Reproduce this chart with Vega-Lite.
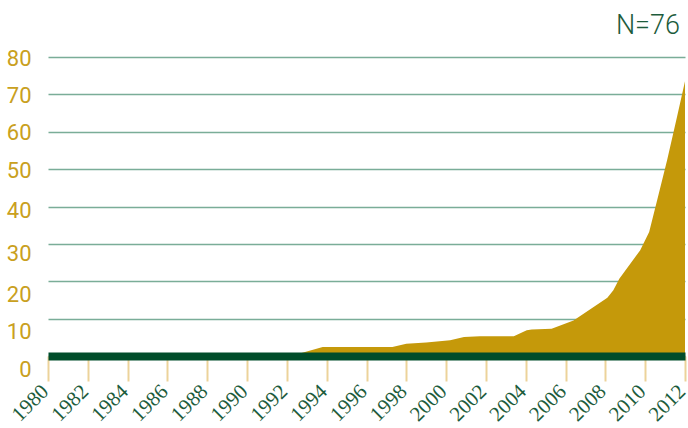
{
  "$schema": "https://vega.github.io/schema/vega-lite/v6.json",
  "autosize": "none",
  "width": 637,
  "height": 299,
  "padding": {"left": 48, "top": 57, "right": 3, "bottom": 72},
  "background": "white",
  "title": {
    "text": "N=76",
    "anchor": "end",
    "frame": "group",
    "font": "Roboto",
    "fontSize": 27,
    "fontWeight": 300,
    "color": "#1d5c3c",
    "baseline": "alphabetic",
    "offset": 14,
    "dy": 28,
    "dx": -5
  },
  "config": {"view": {"stroke": null}},
  "data": {
    "values": [
      {"year": 1980, "count": 0},
      {"year": 1992.2, "count": 0},
      {"year": 1993.8, "count": 2.4},
      {"year": 1997.3, "count": 2.4},
      {"year": 1998.0, "count": 3.3},
      {"year": 1999.0, "count": 3.6},
      {"year": 2000.2, "count": 4.2},
      {"year": 2000.9, "count": 5.1},
      {"year": 2001.7, "count": 5.3},
      {"year": 2003.4, "count": 5.3},
      {"year": 2004.05, "count": 6.9},
      {"year": 2004.3, "count": 7.1},
      {"year": 2005.3, "count": 7.3},
      {"year": 2006.4, "count": 9.5},
      {"year": 2008.1, "count": 15.6},
      {"year": 2008.4, "count": 17.6},
      {"year": 2008.7, "count": 20.7},
      {"year": 2009.75, "count": 28.3},
      {"year": 2010.2, "count": 33.2},
      {"year": 2010.6, "count": 41.7},
      {"year": 2011.1, "count": 52.4},
      {"year": 2011.6, "count": 64.0},
      {"year": 2012.0, "count": 73.5}
    ]
  },
  "mark": {"type": "area", "color": "#c5990a", "interpolate": "linear"},
  "encoding": {
    "x": {
      "field": "year",
      "type": "quantitative",
      "scale": {"domain": [1980, 2012], "nice": false, "zero": false},
      "axis": {
        "title": null,
        "values": [1980, 1982, 1984, 1986, 1988, 1990, 1992, 1994, 1996, 1998, 2000, 2002, 2004, 2006, 2008, 2010, 2012],
        "format": "d",
        "grid": false,
        "domain": true,
        "domainColor": "#004d2a",
        "domainWidth": 8,
        "domainCap": "butt",
        "ticks": true,
        "tickColor": "#ecd39a",
        "tickWidth": 2,
        "tickSize": 25,
        "labelAngle": -45,
        "labelAlign": "right",
        "labelBaseline": "middle",
        "labelPadding": 7,
        "labelOffset": -3,
        "labelFont": "Liberation Serif",
        "labelFontSize": 21,
        "labelColor": "#1d5c3c",
        "labelOverlap": false,
        "labelFlush": false,
        "zindex": 1
      }
    },
    "y": {
      "field": "count",
      "type": "quantitative",
      "scale": {"domain": [0, 80], "nice": false},
      "axis": {
        "title": null,
        "values": [0, 10, 20, 30, 40, 50, 60, 70, 80],
        "domain": false,
        "ticks": false,
        "grid": true,
        "gridColor": "#7aad98",
        "gridWidth": 1.5,
        "labelFont": "Roboto",
        "labelFontSize": 22,
        "labelFontWeight": "normal",
        "labelColor": "#c9a020",
        "labelPadding": 17,
        "labelBaseline": "middle",
        "labelOffset": {
          "condition": [
            {"test": "datum.value <= 20", "value": 13},
            {"test": "datum.value == 30", "value": 10},
            {"test": "datum.value == 40", "value": 4}
          ],
          "value": 1
        }
      }
    }
  }
}
